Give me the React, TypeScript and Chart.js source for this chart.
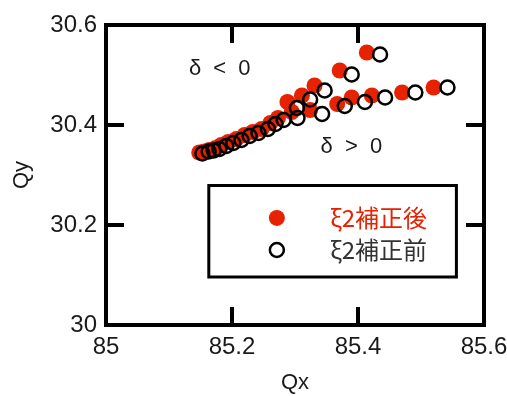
import React, { useEffect, useRef } from 'react';
import { Chart, registerables } from 'chart.js';

Chart.register(...registerables);

// ξ2補正後 (after correction) — red filled points
const afterQx = [
  85.148, 85.156, 85.164, 85.174, 85.183, 85.194, 85.207, 85.22, 85.233, 85.247, 85.261, 85.273,
  85.288, 85.311, 85.331, 85.371, 85.414,
  85.295, 85.324, 85.367, 85.39, 85.422, 85.47, 85.52,
];
const afterQy = [
  30.345, 30.347, 30.35, 30.354, 30.36, 30.366, 30.372, 30.38, 30.386, 30.392, 30.404, 30.414,
  30.446, 30.459, 30.479, 30.509, 30.545,
  30.426, 30.43, 30.442, 30.455, 30.459, 30.465, 30.475,
];

// ξ2補正前 (before correction) — open black circles
const beforeQx = [
  85.153, 85.163, 85.171, 85.18, 85.191, 85.202, 85.215, 85.228, 85.242, 85.257, 85.269, 85.282,
  85.303, 85.324, 85.347, 85.39, 85.435,
  85.304, 85.343, 85.379, 85.411, 85.443, 85.491, 85.542,
];
const beforeQy = [
  30.343, 30.347, 30.349, 30.352, 30.358, 30.364, 30.37, 30.378, 30.384, 30.392, 30.402, 30.41,
  30.434, 30.451, 30.469, 30.501, 30.541,
  30.414, 30.422, 30.438, 30.446, 30.455, 30.465, 30.475,
];

const xTicks = [85, 85.2, 85.4, 85.6];
const yTicks = [30, 30.2, 30.4, 30.6];
const seriesLabels = ['ξ2補正後', 'ξ2補正前'];
const notes = ['δ < 0', 'δ > 0'];
const axisTitles = ['Qx', 'Qy'];

const RED = '#e62200';
const INK = '#1a1a1a';
const LATIN = '"Liberation Sans", Arial, sans-serif';
const CJK = '"Noto Sans CJK JP", "Noto Sans", sans-serif';

const toPoints = (xs: number[], ys: number[]) => xs.map((v, i) => ({ x: v, y: ys[i] }));

const decor = {
  id: 'decor',
  afterDatasetsDraw(chart: any) {
    const { ctx, chartArea: a } = chart;
    const sx = chart.scales.x;
    const sy = chart.scales.y;
    const W = a.right - a.left;
    const H = a.bottom - a.top;
    ctx.save();
    // frame
    ctx.strokeStyle = '#000';
    ctx.lineWidth = 4;
    ctx.strokeRect(a.left, a.top, W, H);
    // inward ticks on four sides
    const L = 18;
    ctx.beginPath();
    xTicks.slice(1, -1).forEach((v) => {
      const p = sx.getPixelForValue(v);
      ctx.moveTo(p, a.bottom); ctx.lineTo(p, a.bottom - L);
      ctx.moveTo(p, a.top); ctx.lineTo(p, a.top + L);
    });
    yTicks.slice(1, -1).forEach((v) => {
      const p = sy.getPixelForValue(v);
      ctx.moveTo(a.left, p); ctx.lineTo(a.left + L, p);
      ctx.moveTo(a.right, p); ctx.lineTo(a.right - L, p);
    });
    ctx.stroke();

    // annotations
    ctx.fillStyle = INK;
    ctx.font = `22px ${LATIN}`;
    ctx.textAlign = 'center';
    ctx.textBaseline = 'middle';
    (ctx as any).letterSpacing = '3px';
    ctx.fillText(notes[0], a.left + W * 0.305, a.top + H * 0.147);
    ctx.fillText(notes[1], a.left + W * 0.653, a.top + H * 0.408);
    (ctx as any).letterSpacing = '0px';

    // legend box
    const bx = a.left + W * 0.272;
    const by = a.top + H * 0.535;
    const bw = W * 0.655;
    const bh = H * 0.305;
    ctx.lineWidth = 3;
    ctx.strokeStyle = '#000';
    ctx.strokeRect(bx, by, bw, bh);
    const mx = a.left + W * 0.452;
    const r1 = a.top + H * 0.643;
    const r2 = a.top + H * 0.75;
    ctx.fillStyle = RED;
    ctx.beginPath(); ctx.arc(mx, r1, 8, 0, Math.PI * 2); ctx.fill();
    ctx.strokeStyle = '#000';
    ctx.lineWidth = 2.5;
    ctx.beginPath(); ctx.arc(mx, r2, 7, 0, Math.PI * 2); ctx.stroke();
    ctx.textAlign = 'left';
    ctx.font = `24px ${CJK}`;
    const tx = a.left + W * 0.593;
    ctx.fillStyle = RED;
    ctx.fillText(seriesLabels[0], tx, r1);
    ctx.fillStyle = '#333';
    ctx.fillText(seriesLabels[1], tx, r2);
    ctx.restore();
  },
};

export default function App() {
  const ref = useRef<HTMLCanvasElement | null>(null);
  useEffect(() => {
    if (!ref.current) return;
    const tickFont = { family: LATIN, size: 24 };
    const chart = new Chart(ref.current, {
      type: 'scatter',
      data: {
        datasets: [
          {
            label: seriesLabels[1],
            data: toPoints(beforeQx, beforeQy),
            pointRadius: 7,
            pointBorderWidth: 2.5,
            pointBorderColor: '#000',
            pointBackgroundColor: 'rgba(0,0,0,0)',
          },
          {
            label: seriesLabels[0],
            data: toPoints(afterQx, afterQy),
            pointRadius: 8,
            pointBorderWidth: 0,
            pointBorderColor: RED,
            pointBackgroundColor: RED,
          },
        ],
      },
      options: {
        animation: false,
        responsive: false,
        layout: { padding: { top: 25, right: 23, left: 0, bottom: 0 } },
        plugins: { legend: { display: false }, tooltip: { enabled: false } },
        scales: {
          x: {
            type: 'linear',
            min: xTicks[0],
            max: xTicks[xTicks.length - 1],
            afterBuildTicks: (s: any) => { s.ticks = xTicks.map((v) => ({ value: v })); },
            afterFit: (s: any) => { s.height = 71; s.paddingLeft = 0; s.paddingRight = 0; },
            grid: { display: false, drawTicks: false },
            border: { display: false },
            ticks: {
              font: tickFont, color: INK, padding: 8, maxRotation: 0, autoSkip: false,
              callback: (v: any) => String(v),
            },
            title: { display: true, text: axisTitles[0], font: { family: LATIN, size: 22 }, color: INK, padding: 0 },
          },
          y: {
            type: 'linear',
            min: yTicks[0],
            max: yTicks[yTicks.length - 1],
            afterBuildTicks: (s: any) => { s.ticks = yTicks.map((v) => ({ value: v })); },
            afterFit: (s: any) => { s.width = 106; s.paddingTop = 0; s.paddingBottom = 0; },
            grid: { display: false, drawTicks: false },
            border: { display: false },
            ticks: {
              font: tickFont, color: INK, padding: 9, autoSkip: false,
              callback: (v: any) => String(v),
            },
            title: { display: true, text: axisTitles[1], font: { family: LATIN, size: 22 }, color: INK, padding: 9 },
          },
        },
      },
      plugins: [decor],
    } as any);
    return () => chart.destroy();
  }, []);
  return (
    <div style={{ position: 'fixed', left: 0, top: 0, width: 507, height: 396, background: '#fff' }}>
      <canvas ref={ref} width={507} height={396} style={{ display: 'block', width: 507, height: 396 }} />
    </div>
  );
}
